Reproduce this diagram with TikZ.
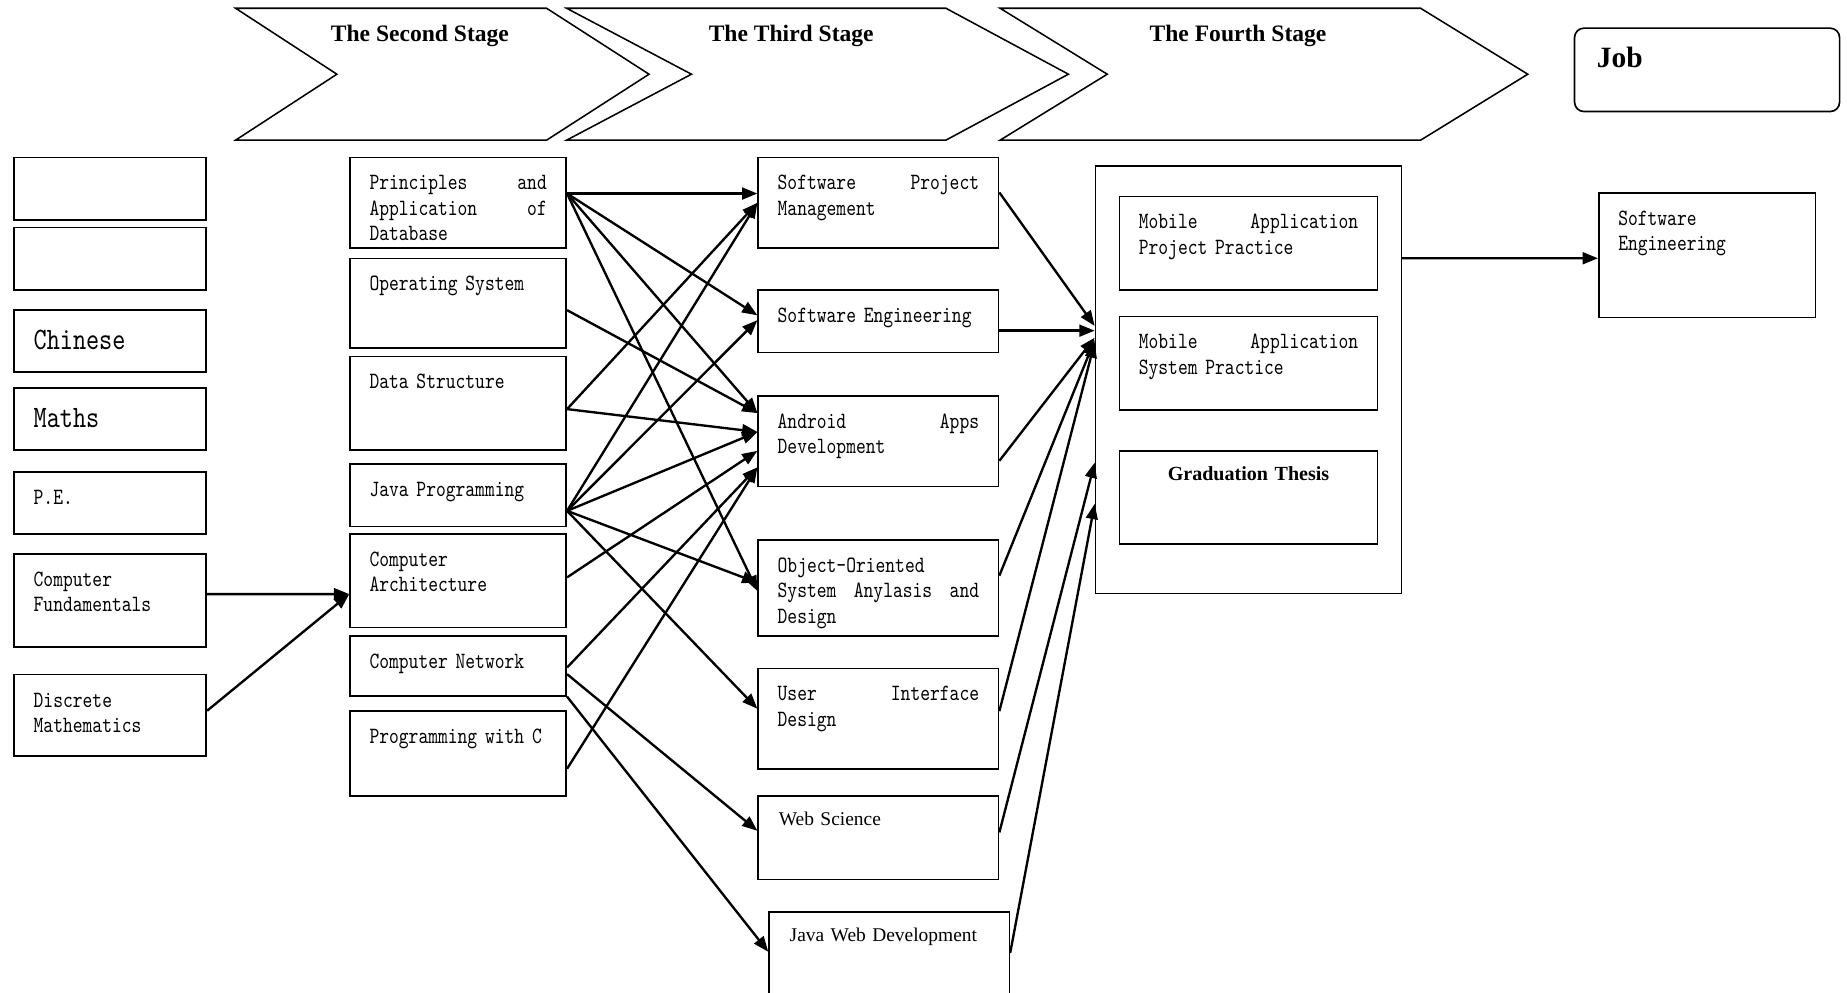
\documentclass[tikz,border=0pt]{standalone}
\usepackage{fontspec}
\setmainfont{Liberation Serif}
\newfontfamily\cnfont{lmmono10-regular}[Extension=.otf, FakeStretch=0.8]
\usetikzlibrary{arrows.meta}
\tikzset{course/.style 2 args={ % course box, first line near its top
            draw, line width=1.4pt, anchor=north west,
            inner xsep=16.5pt, inner ysep=0pt, align=left,
            font={\cnfont\fontsize{19.8}{21.5}\selectfont},
            minimum width=#1pt, text width=#1pt-33pt,
            text height=27.5pt, text depth=#2pt-27.5pt},
        bigcourse/.style 2 args={course={#1}{#2},
            font={\cnfont\fontsize{26.5}{30}\selectfont},
            text height=33.4pt, text depth=#2pt-33.4pt},
        webcourse/.style 2 args={course={#1}{#2},
            font={\fontsize{16.5}{20}\selectfont},
            inner xsep=17.5pt, text width=#1pt-35pt,
            text height=25pt, text depth=#2pt-25pt},
        thesiscourse/.style 2 args={course={#1}{#2},
            font={\bfseries\fontsize{17}{21}\selectfont}, align=center,
            text height=25.5pt, text depth=#2pt-25.5pt},
        jobbox/.style 2 args={course={#1}{#2}, rounded corners=8pt,
            font={\bfseries\fontsize{25}{30}\selectfont},
            inner xsep=19pt, text width=#1pt-38pt,
            text height=33.4pt, text depth=#2pt-33.4pt},
        stage/.style={line width=1.3pt},
        title/.style={font={\bfseries\fontsize{20}{24}\selectfont}, anchor=base, inner sep=0pt},
        every edge/.style={ % connectors with filled heads
            draw,
            -{Triangle[length=13pt,width=10pt]},
            line width=2pt}
        }

\begin{document}
\begin{tikzpicture}[x=1pt, y=-1pt]
    \useasboundingbox (0,0) rectangle (1568,843);
    \clip (0,0) rectangle (1568,843);

    % stages
    \draw[stage] (200,7) -- (464,7) -- (551,63) -- (464,119) -- (200,119) -- (286,63) -- cycle;
    \node[title] (second) at (356.5,35.4) {The Second Stage};
    \draw[stage] (481,7) -- (803,7) -- (907,63) -- (803,119) -- (481,119) -- (587,63) -- cycle;
    \node[title] (third)  at (671.7,35.4) {The Third Stage};
    \draw[stage] (849,7) -- (1206,7) -- (1297,63) -- (1206,119) -- (849,119) -- (940,63) -- cycle;
    \node[title] (fourth) at (1051,35.4) {The Fourth Stage};
    \node[jobbox={225}{70.8}] (job) at (1336,23.2) {Job};

    % first column
    \node[course={163}{53}]    (blank1)  at (11.4,133)   {};
    \node[course={163}{53}]    (blank2)  at (11.4,192.4) {};
    \node[bigcourse={163}{53}] (chinese) at (11.4,262.3) {Chinese};
    \node[bigcourse={163}{53}] (maths)   at (11.4,328.5) {Maths};
    \node[course={163}{52.5}]  (pe)      at (11.4,400)   {P.E.};
    \node[course={163}{79}]    (cf)      at (11.4,469.6) {Computer\\Fundamentals};
    \node[course={163}{69}]    (dm)      at (11.4,572)   {Discrete\\Mathematics};

    % second stage
    \node[course={183.5}{77}]   (db)    at (296.5,133)   {Principles\hfill and\\Application\hfill of\\Database};
    \node[course={183.5}{76}]   (os)    at (296.5,218.7) {Operating System};
    \node[course={183.5}{79.4}] (ds)    at (296.5,302)   {Data Structure};
    \node[course={183.5}{53}]   (java)  at (296.5,393.3) {Java Programming};
    \node[course={183.5}{79.3}] (arch)  at (296.5,452.7) {Computer\\Architecture};
    \node[course={183.5}{51}]   (net)   at (296.5,539)   {Computer Network};
    \node[course={183.5}{72.5}] (cprog) at (296.5,602.7) {Programming with C};

    % third stage
    \node[course={204}{77}]     (spm)     at (643,133)   {Software\hfill Project\\Management};
    \node[course={204}{53}]     (se)      at (643,245.6) {Software Engineering};
    \node[course={204}{77}]     (android) at (643,335.3) {Android\hfill Apps\\Development};
    \node[course={204}{81.2}]   (oosad)   at (643,457.8) {Object-Oriented\\System\hfill Anylasis\hfill and\\Design};
    \node[course={204}{85.4}]   (ui)      at (643,566.8) {User\hfill Interface\\Design};
    \node[webcourse={204}{71}]  (web)     at (643,675)   {Web Science};
    \node[webcourse={204}{110}] (jwd)     at (652.2,773.4) {Java Web Development};

    % fourth stage
    \node[course={259.7}{363}]       (stage4) at (929.3,140) {};
    \node[course={219.2}{79.6}]      (mapp)   at (949.6,166) {Mobile\hfill Application\\Project Practice};
    \node[course={219.2}{79.5}]      (msys)   at (949.6,268) {Mobile\hfill Application\\System Practice};
    \node[thesiscourse={219.2}{79.3}] (thesis) at (949.6,382) {Graduation Thesis};
    \node[course={183.8}{105.5}]     (jobse)  at (1356.6,163.3) {Software\\Engineering};

    \draw ([yshift=5.4pt]cf.east) edge ([yshift=-11.3pt]arch.west);
    \draw ([yshift=3.8pt]dm.east) edge ([yshift=-11.3pt]arch.west);

    \draw ([yshift=7.9pt]db.east) edge ([yshift=7.9pt]spm.west);
    \draw ([yshift=7.9pt]db.east) edge ([yshift=5.1pt]se.west);
    \draw ([yshift=7.9pt]db.east) edge ([yshift=23.8pt]android.west);
    \draw ([yshift=7.9pt]db.east) edge ([yshift=-2.6pt]oosad.west);
    \draw ([yshift=-5.9pt]os.east) edge ([yshift=23.8pt]android.west);
    \draw ([yshift=-4.9pt]ds.east) edge (spm.west);
    \draw ([yshift=-4.9pt]ds.east) edge ([yshift=7.8pt]android.west);
    \draw ([yshift=-13.2pt]java.east) edge (spm.west);
    \draw ([yshift=-13.2pt]java.east) edge ([yshift=1pt]se.west);
    \draw ([yshift=-13.2pt]java.east) edge ([yshift=7.8pt]android.west);
    \draw ([yshift=-13.2pt]java.east) edge ([yshift=4.4pt]oosad.west);
    \draw ([yshift=-13.2pt]java.east) edge ([yshift=8.5pt]ui.west);
    \draw ([yshift=2.9pt]arch.east) edge ([yshift=-8.2pt]android.west);
    \draw ([yshift=-1.5pt]net.east) edge ([yshift=-22.2pt]android.west);
    \draw ([yshift=-7.1pt]net.east) edge ([yshift=5.9pt]web.west);
    \draw (net.south east) edge ([yshift=-34.6pt]jwd.north west);
    \draw ([yshift=-13pt]cprog.east) edge ([yshift=-22.2pt]android.west);

    \draw ([yshift=8.8pt]spm.east) edge ([yshift=45.5pt]stage4.west);
    \draw ([yshift=-7.9pt]se.east) edge ([yshift=41.5pt]stage4.west);
    \draw ([yshift=-16.7pt]android.east) edge ([yshift=35.5pt]stage4.west);
    \draw ([yshift=10.4pt]oosad.east) edge ([yshift=33.5pt]stage4.west);
    \draw ([yshift=6.5pt]ui.east) edge ([yshift=31.5pt]stage4.west);
    \draw ([yshift=4.5pt]web.east) edge ([yshift=-70.5pt]stage4.west);
    \draw ([yshift=-35.6pt]jwd.north east) edge ([yshift=-105.5pt]stage4.west);

    \draw ([yshift=103pt]stage4.east) edge ([yshift=-2.5pt]jobse.west);
\end{tikzpicture}
\end{document}
